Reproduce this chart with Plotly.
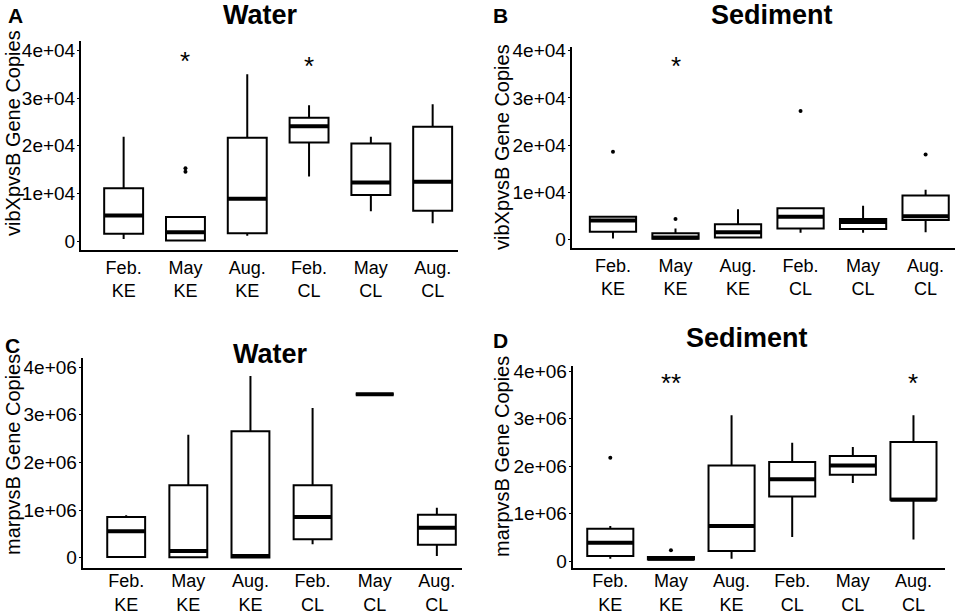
import plotly.graph_objects as go

categories = ["Feb.<br>KE", "May<br>KE", "Aug.<br>KE", "Feb.<br>CL", "May<br>CL", "Aug.<br>CL"]

# Panel A: vibXpvsB, Water
a_lower = [500, 0, 1200, 13600, 6300, 3800]
a_q1 = [1600, 200, 1700, 20700, 9700, 6400]
a_median = [5400, 1900, 8900, 24100, 12300, 12500]
a_q3 = [11100, 5100, 21700, 25900, 20500, 24000]
a_upper = [21900, 5300, 35000, 28500, 21900, 28700]
a_out_cat = ["May<br>KE", "May<br>KE"]
a_out_val = [15300, 14600]
a_star_cat = ["May<br>KE", "Feb.<br>CL"]
a_star_val = [39000, 38000]
a_star_txt = ["*", "*"]

# Panel B: vibXpvsB, Sediment
b_lower = [200, 0, 400, 1400, 1400, 1500]
b_q1 = [1600, 100, 400, 2300, 2200, 4100]
b_median = [4000, 400, 1500, 4800, 3700, 4900]
b_q3 = [4800, 1300, 3200, 6600, 4300, 9300]
b_upper = [4800, 2300, 6400, 6700, 7100, 10500]
b_out_cat = ["Feb.<br>KE", "May<br>KE", "Feb.<br>CL", "Aug.<br>CL"]
b_out_val = [18600, 4300, 27200, 18000]
b_star_cat = ["May<br>KE"]
b_star_val = [38000]
b_star_txt = ["*"]

# Panel C: marpvsB, Water
c_lower = [0, 0, 0, 280000, 3430000, 35000]
c_q1 = [15000, 10000, 5000, 385000, 3430000, 273000]
c_median = [552000, 140000, 35000, 853000, 3430000, 629000]
c_q3 = [853000, 1517000, 2650000, 1517000, 3430000, 902000]
c_upper = [888000, 2580000, 3810000, 3140000, 3430000, 1049000]
c_out_cat = []
c_out_val = []
c_star_cat = []
c_star_val = []
c_star_txt = []

# Panel D: marpvsB, Sediment
d_lower = [49000, 20000, 49000, 505000, 1642000, 456000]
d_q1 = [105000, 35000, 211000, 1360000, 1818000, 1290000]
d_median = [386000, 49000, 737000, 1720000, 2014000, 1290000]
d_q3 = [681000, 84000, 2014000, 2084000, 2210000, 2505000]
d_upper = [737000, 84000, 3067000, 2490000, 2400000, 3067000]
d_out_cat = ["Feb.<br>KE", "May<br>KE"]
d_out_val = [2176000, 225000]
d_star_cat = ["May<br>KE", "Aug.<br>CL"]
d_star_val = [3870000, 3870000]
d_star_txt = ["**", "*"]

y_ticks_04 = [0, 10000, 20000, 30000, 40000]
y_labels_04 = ["0", "1e+04", "2e+04", "3e+04", "4e+04"]
y_ticks_06 = [0, 1000000, 2000000, 3000000, 4000000]
y_labels_06 = ["0", "1e+06", "2e+06", "3e+06", "4e+06"]

W, H = 960, 615
FONT = "Liberation Sans, Arial, Helvetica, sans-serif"

panels = [
    dict(lower=a_lower, q1=a_q1, med=a_median, q3=a_q3, upper=a_upper,
         oc=a_out_cat, ov=a_out_val, sc=a_star_cat, sv=a_star_val, st=a_star_txt,
         px=(81, 458), py=(40.7, 250), xr=(-0.69, 5.41), yr=(-1800, 42000),
         tv=y_ticks_04, tt=y_labels_04, xso=0,
         bw=0.63, title="Water", tpos=(260, 15), letter="A", lpos=(15, 16),
         ytitle="vibXpvsB Gene Copies", ytpos=(13, 133)),
    dict(lower=b_lower, q1=b_q1, med=b_median, q3=b_q3, upper=b_upper,
         oc=b_out_cat, ov=b_out_val, sc=b_star_cat, sv=b_star_val, st=b_star_txt,
         px=(571.7, 955), py=(46.7, 248.3), xr=(-0.66, 5.47), yr=(-1900, 40850),
         tv=y_ticks_04, tt=y_labels_04, xso=0,
         bw=0.74, title="Sediment", tpos=(772, 15), letter="B", lpos=(500, 15),
         ytitle="vibXpvsB Gene Copies", ytpos=(502, 147)),
    dict(lower=c_lower, q1=c_q1, med=c_median, q3=c_q3, upper=c_upper,
         oc=c_out_cat, ov=c_out_val, sc=c_star_cat, sv=c_star_val, st=c_star_txt,
         px=(82.7, 461.7), py=(357.7, 567.7), xr=(-0.70, 5.40), yr=(-210000, 4195000),
         tv=y_ticks_06, tt=y_labels_06, xso=-4,
         bw=0.61, title="Water", tpos=(270, 354), letter="C", lpos=(12, 345),
         ytitle="marpvsB Gene Copies", ytpos=(13, 455)),
    dict(lower=d_lower, q1=d_q1, med=d_median, q3=d_q3, upper=d_upper,
         oc=d_out_cat, ov=d_out_val, sc=d_star_cat, sv=d_star_val, st=d_star_txt,
         px=(572.7, 945), py=(366.3, 567.7), xr=(-0.62, 5.52), yr=(-140000, 4100000),
         tv=y_ticks_06, tt=y_labels_06, xso=-4,
         bw=0.76, title="Sediment", tpos=(747, 338), letter="D", lpos=(500, 340),
         ytitle="marpvsB Gene Copies", ytpos=(502, 457)),
]

fig = go.Figure()
annotations = []
layout_axes = {}

for i, p in enumerate(panels):
    n = "" if i == 0 else str(i + 1)
    xa, ya = "x" + n, "y" + n
    fig.add_trace(go.Box(
        x=categories, q1=p["q1"], median=p["med"], q3=p["q3"],
        lowerfence=p["lower"], upperfence=p["upper"],
        boxpoints=False, fillcolor="white", line=dict(color="black", width=2),
        whiskerwidth=0, width=p["bw"], xaxis=xa, yaxis=ya, showlegend=False,
        hoverinfo="skip"))
    # thicker median bar
    fig.add_trace(go.Box(
        x=categories, q1=p["med"], median=p["med"], q3=p["med"],
        lowerfence=p["med"], upperfence=p["med"],
        boxpoints=False, fillcolor="black", line=dict(color="black", width=4),
        whiskerwidth=0, width=p["bw"], xaxis=xa, yaxis=ya, showlegend=False,
        hoverinfo="skip"))
    if p["oc"]:
        fig.add_trace(go.Scatter(
            x=p["oc"], y=p["ov"], mode="markers",
            marker=dict(color="black", size=4), xaxis=xa, yaxis=ya,
            showlegend=False, hoverinfo="skip"))
    for c, v, t in zip(p["sc"], p["sv"], p["st"]):
        annotations.append(dict(
            text=t, x=c, y=v, xref=xa, yref=ya, xanchor="center", yanchor="middle",
            yshift=-6, showarrow=False, font=dict(family=FONT, size=26, color="black")))
    x0, x1 = p["px"]
    yt, yb = p["py"]
    layout_axes["xaxis" + n] = dict(
        domain=[x0 / W, x1 / W], anchor=ya, type="category",
        categoryorder="array", categoryarray=categories,
        range=list(p["xr"]), automargin=False,
        showline=True, linecolor="black", linewidth=2, showgrid=False,
        zeroline=False, ticks="", ticklabelstandoff=p["xso"],
        tickfont=dict(family=FONT, size=18, color="black"),
        fixedrange=True)
    layout_axes["yaxis" + n] = dict(
        domain=[1 - yb / H, 1 - yt / H], anchor=xa, range=list(p["yr"]),
        automargin=False,
        showline=True, linecolor="black", linewidth=2, showgrid=False,
        zeroline=False, ticks="outside", ticklen=2, tickwidth=1, tickcolor="black",
        ticklabelstandoff=-2,
        tickvals=p["tv"], ticktext=p["tt"],
        tickfont=dict(family=FONT, size=19, color="black"), fixedrange=True)
    annotations.append(dict(
        text="<b>" + p["title"] + "</b>", x=p["tpos"][0] / W, y=1 - p["tpos"][1] / H,
        xref="paper", yref="paper", xanchor="center", yanchor="middle",
        showarrow=False, font=dict(family=FONT, size=27, color="black")))
    annotations.append(dict(
        text="<b>" + p["letter"] + "</b>", x=p["lpos"][0] / W, y=1 - p["lpos"][1] / H,
        xref="paper", yref="paper", xanchor="center", yanchor="middle",
        showarrow=False, font=dict(family=FONT, size=21, color="black")))
    annotations.append(dict(
        text=p["ytitle"], x=p["ytpos"][0] / W, y=1 - p["ytpos"][1] / H,
        xref="paper", yref="paper", xanchor="center", yanchor="middle",
        textangle=-90, showarrow=False, font=dict(family=FONT, size=20, color="black")))

fig.update_layout(
    template="none",
    width=W, height=H, margin=dict(l=0, r=0, t=0, b=0),
    paper_bgcolor="white", plot_bgcolor="white",
    boxmode="overlay", annotations=annotations,
    font=dict(family=FONT, color="black"),
    **layout_axes)

fig.write_html("out.html", config={"displayModeBar": False},
               post_script="document.body.style.margin='0';")
